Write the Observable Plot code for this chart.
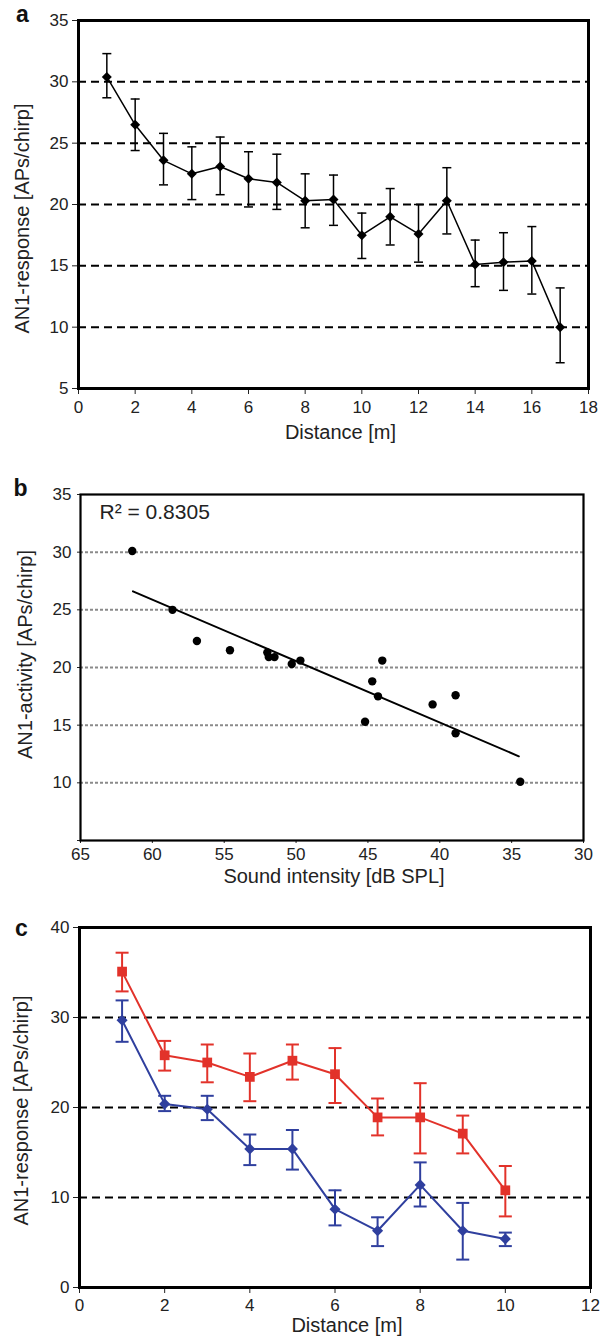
<!DOCTYPE html>
<html>
<head>
<meta charset="utf-8">
<script src="https://cdn.jsdelivr.net/npm/d3@7"></script>
<script src="https://cdn.jsdelivr.net/npm/@observablehq/plot@0.6"></script>
<style>
  body { margin: 0; background: #fff; }
  #root { position: relative; width: 602px; height: 1338px; overflow: hidden; background: #fff; }
  .panel { position: absolute; left: 0; width: 602px; }
  .panel svg { overflow: visible; }
</style>
</head>
<body>
<div id="root">
  <div class="panel" id="pa" style="top:0px"></div>
  <div class="panel" id="pb" style="top:450px"></div>
  <div class="panel" id="pc" style="top:890px"></div>
</div>
<script>
// ---------- Panel a data ----------
const distanceA = [1, 2, 3, 4, 5, 6, 7, 8, 9, 10, 11, 12, 13, 14, 15, 16, 17];
const meanA  = [30.4, 26.5, 23.6, 22.5, 23.1, 22.1, 21.8, 20.3, 20.4, 17.5, 19.0, 17.6, 20.3, 15.1, 15.3, 15.4, 10.0];
const upperA = [32.3, 28.6, 25.8, 24.7, 25.5, 24.3, 24.1, 22.5, 22.4, 19.3, 21.3, 20.0, 23.0, 17.1, 17.7, 18.2, 13.2];
const lowerA = [28.7, 24.4, 21.6, 20.4, 20.8, 19.8, 19.6, 18.1, 18.3, 15.6, 16.7, 15.3, 17.6, 13.3, 13.0, 12.7, 7.1];
const xTicksA = [0, 2, 4, 6, 8, 10, 12, 14, 16, 18];
const yTicksA = [5, 10, 15, 20, 25, 30, 35];
const gridA = [10, 15, 20, 25, 30];

// ---------- Panel b data ----------
const soundB    = [61.4, 58.6, 56.9, 54.6, 52.0, 51.9, 51.5, 50.3, 49.7, 44.0, 44.7, 44.3, 45.2, 40.5, 38.9, 38.9, 34.4];
const activityB = [30.1, 25.0, 22.3, 21.5, 21.3, 20.9, 20.9, 20.3, 20.6, 20.6, 18.8, 17.5, 15.3, 16.8, 17.6, 14.3, 10.1];
const fitX = [61.35, 34.5];
const fitY = [26.6, 12.3];
const xTicksB = [65, 60, 55, 50, 45, 40, 35, 30];
const yTicksB = [5, 10, 15, 20, 25, 30, 35];
const gridB = [10, 15, 20, 25, 30];
const r2Label = "R\u00B2 = 0.8305";

// ---------- Panel c data ----------
const distanceC = [1, 2, 3, 4, 5, 6, 7, 8, 9, 10];
const redMean  = [35.1, 25.8, 25.0, 23.4, 25.2, 23.7, 18.9, 18.9, 17.1, 10.8];
const redUpper = [37.2, 27.4, 27.0, 26.0, 27.0, 26.6, 21.0, 22.7, 19.1, 13.5];
const redLower = [32.9, 24.1, 22.8, 20.7, 23.1, 20.5, 16.9, 14.9, 14.9, 7.9];
const blueMean  = [29.7, 20.4, 19.8, 15.4, 15.4, 8.7, 6.3, 11.4, 6.3, 5.4];
const blueUpper = [31.9, 21.3, 21.3, 17.0, 17.5, 10.8, 7.8, 13.9, 9.4, 6.1];
const blueLower = [27.3, 19.6, 18.6, 13.6, 13.1, 6.9, 4.6, 9.0, 3.1, 4.6];
const xTicksC = [0, 2, 4, 6, 8, 10, 12];
const yTicksC = [0, 10, 20, 30, 40];
const gridC = [10, 20, 30];

// ---------- Labels ----------
const xLabelA = "Distance [m]";
const yLabelA = "AN1-response [APs/chirp]";
const xLabelB = "Sound intensity [dB SPL]";
const yLabelB = "AN1-activity [APs/chirp]";
const xLabelC = "Distance [m]";
const yLabelC = "AN1-response [APs/chirp]";

const FONT = "'Liberation Sans', Arial, Helvetica, sans-serif";
const RED = "#e2322a";
const BLUE = "#2f3f9e";

// horizontal cap symbol for error bars
const capSymbol = {
  draw(context, size) {
    const w = Math.sqrt(size / Math.PI);
    context.moveTo(-w, 0);
    context.lineTo(w, 0);
  }
};

const baseStyle = {fontFamily: FONT, fontSize: "17px", color: "#222", background: "transparent", overflow: "visible"};

// ---------- Panel a ----------
const dataA = distanceA.map((d, i) => ({d, m: meanA[i], hi: upperA[i], lo: lowerA[i]}));
const plotA = Plot.plot({
  width: 602, height: 450,
  marginTop: 20, marginBottom: 62, marginLeft: 78, marginRight: 14,
  style: baseStyle,
  x: {domain: [0, 18], ticks: xTicksA, tickSize: 6, tickPadding: 6, label: null},
  y: {domain: [5, 35], ticks: yTicksA, tickSize: 6, tickPadding: 4, label: null},
  marks: [
    Plot.ruleY(gridA, {stroke: "#000", strokeWidth: 2, strokeDasharray: "8,5"}),
    Plot.ruleX(dataA, {x: "d", y1: "lo", y2: "hi", stroke: "#000", strokeWidth: 1.5}),
    Plot.dot(dataA, {x: "d", y: "hi", symbol: capSymbol, r: 4.5, fill: "none", stroke: "#000", strokeWidth: 1.5}),
    Plot.dot(dataA, {x: "d", y: "lo", symbol: capSymbol, r: 4.5, fill: "none", stroke: "#000", strokeWidth: 1.5}),
    Plot.line(dataA, {x: "d", y: "m", stroke: "#000", strokeWidth: 1.5}),
    Plot.dot(dataA, {x: "d", y: "m", symbol: "diamond2", r: 4.5, fill: "#000", stroke: "none"}),
    Plot.frame({stroke: "#000", strokeWidth: 3}),
    Plot.text([xLabelA], {frameAnchor: "bottom", dx: 7, dy: 44, fontSize: 20, textAnchor: "middle", lineAnchor: "middle", fill: "#222"}),
    Plot.text([yLabelA], {frameAnchor: "left", rotate: -90, dx: -56, dy: 14, fontSize: 20, textAnchor: "middle", lineAnchor: "middle", fill: "#222"}),
    Plot.text(["a"], {frameAnchor: "top-left", dx: -56, dy: -6, fontSize: 23, fontWeight: "bold", textAnchor: "middle", lineAnchor: "middle", fill: "#111"})
  ]
});
document.getElementById("pa").appendChild(plotA);

// ---------- Panel b ----------
const dataB = soundB.map((s, i) => ({s, a: activityB[i]}));
const fitB = fitX.map((s, i) => ({s, a: fitY[i]}));
const plotB = Plot.plot({
  width: 602, height: 440,
  marginTop: 44, marginBottom: 50, marginLeft: 80, marginRight: 19,
  style: baseStyle,
  x: {domain: [65, 30], ticks: xTicksB, tickSize: 3, tickPadding: 4, label: null},
  y: {domain: [5, 35], ticks: yTicksB, tickSize: 3, tickPadding: 6, label: null, tickFormat: d => d === 5 ? "" : String(d)},
  marks: [
    Plot.ruleY(gridB, {stroke: "#8a8a8a", strokeWidth: 2, strokeDasharray: "3,2"}),
    Plot.line(fitB, {x: "s", y: "a", stroke: "#000", strokeWidth: 2}),
    Plot.dot(dataB, {x: "s", y: "a", r: 4.2, fill: "#000", stroke: "none"}),
    Plot.frame({stroke: "#000", strokeWidth: 2.2}),
    Plot.text([r2Label], {frameAnchor: "top-left", dx: 19, dy: 18, fontSize: 21, textAnchor: "start", lineAnchor: "middle", fill: "#222"}),
    Plot.text([xLabelB], {frameAnchor: "bottom", dx: 2, dy: 36, fontSize: 20, textAnchor: "middle", lineAnchor: "middle", fill: "#222"}),
    Plot.text([yLabelB], {frameAnchor: "left", rotate: -90, dx: -55, dy: -13, fontSize: 20, textAnchor: "middle", lineAnchor: "middle", fill: "#222"}),
    Plot.text(["b"], {frameAnchor: "top-left", dx: -60, dy: -6, fontSize: 23, fontWeight: "bold", textAnchor: "middle", lineAnchor: "middle", fill: "#111"})
  ]
});
document.getElementById("pb").appendChild(plotB);

// ---------- Panel c ----------
const redData = distanceC.map((d, i) => ({d, m: redMean[i], hi: redUpper[i], lo: redLower[i]}));
const blueData = distanceC.map((d, i) => ({d, m: blueMean[i], hi: blueUpper[i], lo: blueLower[i]}));
function seriesMarks(data, color, symbol, r) {
  return [
    Plot.ruleX(data, {x: "d", y1: "lo", y2: "hi", stroke: color, strokeWidth: 2}),
    Plot.dot(data, {x: "d", y: "hi", symbol: capSymbol, r: 6.5, fill: "none", stroke: color, strokeWidth: 2}),
    Plot.dot(data, {x: "d", y: "lo", symbol: capSymbol, r: 6.5, fill: "none", stroke: color, strokeWidth: 2}),
    Plot.line(data, {x: "d", y: "m", stroke: color, strokeWidth: 2}),
    Plot.dot(data, {x: "d", y: "m", symbol, r, fill: color, stroke: "none"})
  ];
}
const plotC = Plot.plot({
  width: 602, height: 448,
  marginTop: 37, marginBottom: 51, marginLeft: 79, marginRight: 12,
  style: baseStyle,
  x: {domain: [0, 12], ticks: xTicksC, tickSize: 6, tickPadding: 5, label: null},
  y: {domain: [0, 40], ticks: yTicksC, tickSize: 6, tickPadding: 4, label: null},
  marks: [
    Plot.ruleY(gridC, {stroke: "#000", strokeWidth: 2, strokeDasharray: "8,5"}),
    ...seriesMarks(blueData, BLUE, "diamond2", 5),
    ...seriesMarks(redData, RED, "square", 5.5),
    Plot.frame({stroke: "#000", strokeWidth: 3}),
    Plot.text([xLabelC], {frameAnchor: "bottom", dx: 12, dy: 38, fontSize: 20, textAnchor: "middle", lineAnchor: "middle", fill: "#222"}),
    Plot.text([yLabelC], {frameAnchor: "left", rotate: -90, dx: -58, dy: 3, fontSize: 20, textAnchor: "middle", lineAnchor: "middle", fill: "#222"}),
    Plot.text(["c"], {frameAnchor: "top-left", dx: -58, dy: 1, fontSize: 23, fontWeight: "bold", textAnchor: "middle", lineAnchor: "middle", fill: "#111"})
  ]
});
document.getElementById("pc").appendChild(plotC);
</script>
</body>
</html>
